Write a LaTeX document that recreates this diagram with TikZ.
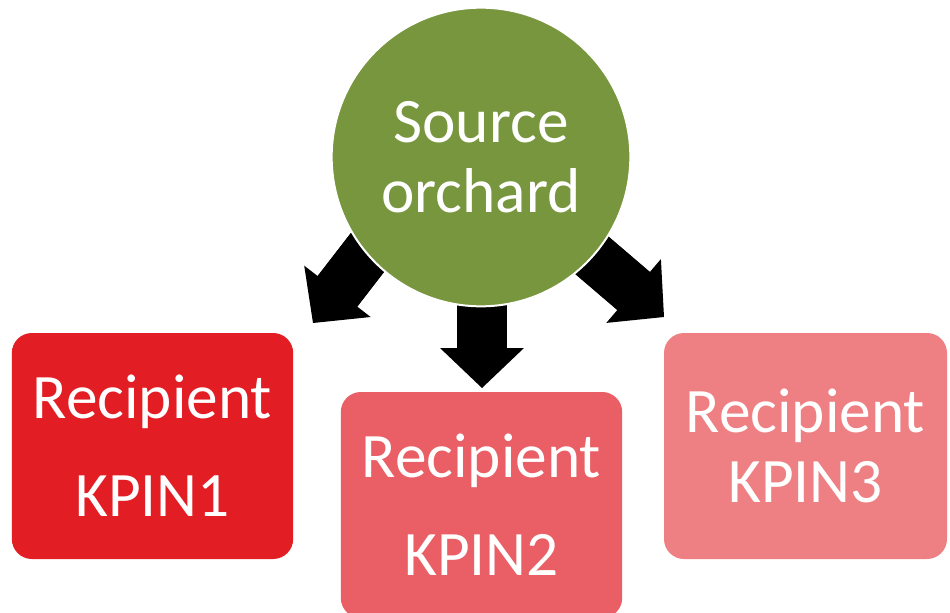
\documentclass[tikz,border=0pt]{standalone}
\usepackage{fontspec}
\setmainfont{Carlito}
\usetikzlibrary{arrows.meta,backgrounds,calc}
\definecolor{srcgreen}{HTML}{77963E}
\definecolor{redA}{HTML}{E31D24}
\definecolor{redB}{HTML}{E95F65}
\definecolor{redC}{HTML}{EE8083}
\begin{document}
\begin{tikzpicture}[x=0.75pt,y=-0.75pt,
  recbox/.style={rounded corners=15pt, text=white, align=center, inner sep=0pt,
    minimum width=211pt, minimum height=169.5pt},
  wide/.style={font=\fontsize{47.5}{73.5}\selectfont},
  tight/.style={font=\fontsize{47.5}{52.5}\selectfont},
  blockarrow/.style={black, line width=37.5pt,
    -{Triangle[length=30pt,width=63pt,line width=0pt]}},
  shaft/.style={black, line width=37.5pt}]
\useasboundingbox (0,0) rectangle (950,613);
\clip (0,0) rectangle (950,613);
% source
\node[circle, fill=srcgreen, draw=white, line width=1.5pt, minimum size=224pt,
  inner sep=0pt, text=white, align=center, tight] (src) at (481,157) {Source\\orchard};
% recipients
\node[recbox, wide, fill=redA] (k1) at (152.5,446) {Recipient\\KPIN1};
\node[recbox, wide, fill=redB] (k2) at (481.5,505) {Recipient\\KPIN2};
\node[recbox, tight, fill=redC, minimum width=212.25pt] (k3) at (805.5,446) {Recipient\\KPIN3};
% arrow ends
\coordinate (s1) at (404.5,204.5);
\coordinate (t1) at (313,323);
\coordinate (s2) at (482,200);
\coordinate (t2) at (482,388);
\coordinate (s3) at (550,219.5);
\coordinate (t3) at (664,317);
\begin{pgfonlayer}{background}
\foreach \i in {1,2,3}{
  \draw[blockarrow] (s\i) -- (t\i);
  \draw[shaft] (s\i) -- ($(t\i)!25pt!(s\i)$);
}
\end{pgfonlayer}
\end{tikzpicture}
\end{document}
